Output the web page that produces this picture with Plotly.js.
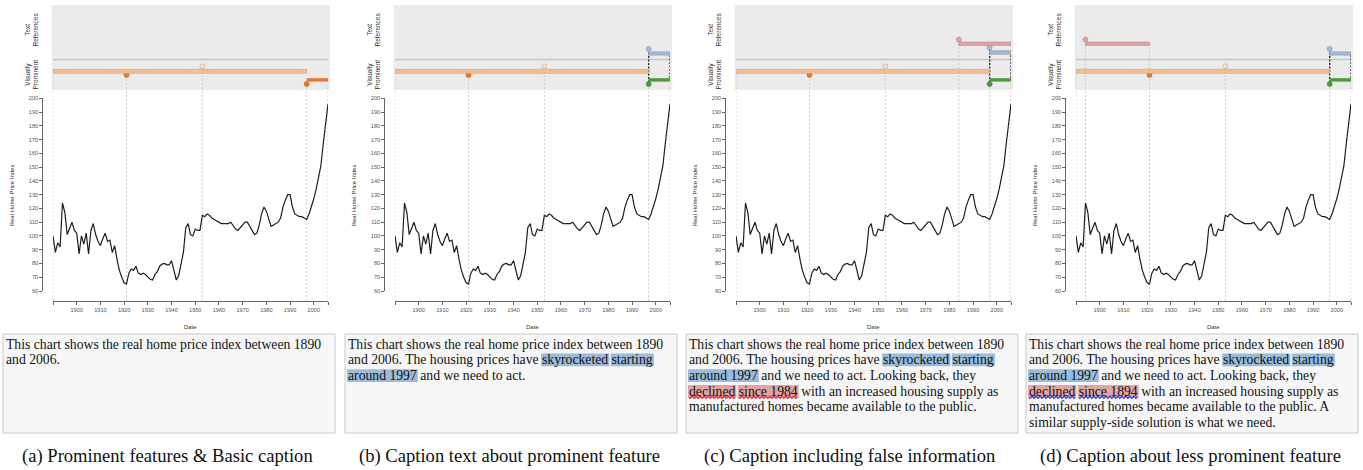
<!DOCTYPE html>
<html><head><meta charset="utf-8">
<script src="https://cdn.plot.ly/plotly-3.0.1.min.js"></script>
<style>html,body{margin:0;padding:0;background:#fff}#chart{width:1363px;height:470px}</style>
</head><body><div id="chart"></div>
<script>
// ---------------- data ----------------
const years = [1890,1891,1892,1893,1894,1895,1896,1897,1898,1899,1900,1901,1902,1903,1904,1905,1906,1907,1908,1909,1910,1911,1912,1913,1914,1915,1916,1917,1918,1919,1920,1921,1922,1923,1924,1925,1926,1927,1928,1929,1930,1931,1932,1933,1934,1935,1936,1937,1938,1939,1940,1941,1942,1943,1944,1945,1946,1947,1948,1949,1950,1951,1952,1953,1954,1955,1956,1957,1958,1959,1960,1961,1962,1963,1964,1965,1966,1967,1968,1969,1970,1971,1972,1973,1974,1975,1976,1977,1978,1979,1980,1981,1982,1983,1984,1985,1986,1987,1988,1989,1990,1991,1992,1993,1994,1995,1996,1997,1998,1999,2000,2001,2002,2003,2004,2005,2006];
const homePriceIndex = [100,88,95,92,124,117,101,106,110,104,102,87,100,94,102,87,104,109,101,96,93,98,102,96,97,88,93,83,75,70,66,65,73,76,75,78,73,72,73,72,70,68.5,68,72,74,78,79.5,80,79,79,82,75,68,71,79,88,106,109,101,100,105,104,104,115,114,116,115,113,112,111,110,109,109,109,109,110,107,105,104,106,108,110,110,107,103,101,102,108,116,121,118,112,107,108,109,110,113,121,126,130,130,121,116,115,114,114,113,112,116,121,127,134,142,151,167,183,196];
const xTickYears = [1900,1910,1920,1930,1940,1950,1960,1970,1980,1990,2000];
const yTickValues = [60,70,80,90,100,110,120,130,140,150,160,170,180,190,200];
const xRange = [1890, 2006];
const yRange = [60, 200];

// visually prominent features (years)
const trendSpan = [1890, 1997];
const minimumYear = 1921;
const shiftYear = 1953;
const riseSpan = [1997, 2006];

// text references per panel (a..d)
const riseReference = [null, [1997, 2006], [1997, 2006], [1997, 2006]];
const declineReference = [null, null, [1984, 2006], [1894, 1921]];

const panelTitles = [
  "(a) Prominent features &amp; Basic caption",
  "(b) Caption text about prominent feature",
  "(c) Caption including false information",
  "(d) Caption about less prominent feature"
];
// {bX:text}: b=blue highlight, r=red highlight; optional R/B = wavy underline colour
const captionLines = [
  ["This chart shows the real home price index between 1890",
   "and 2006."],
  ["This chart shows the real home price index between 1890",
   "and 2006. The housing prices have {b:skyrocketed} {b:starting}",
   "{b:around 1997} and we need to act."],
  ["This chart shows the real home price index between 1890",
   "and 2006. The housing prices have {b:skyrocketed} {b:starting}",
   "{b:around 1997} and we need to act. Looking back, they",
   "{rR:declined} {rR:since 1984} with an increased housing supply as",
   "manufactured homes became available to the public."],
  ["This chart shows the real home price index between 1890",
   "and 2006. The housing prices have {b:skyrocketed} {b:starting}",
   "{b:around 1997} and we need to act. Looking back, they",
   "{rB:declined} {rB:since 1894} with an increased housing supply as",
   "manufactured homes became available to the public. A",
   "similar supply-side solution is what we need."]
];

// ---------------- drawing ----------------
const W = 1363, H = 470;
const OFFS = [0, 342, 683, 1023];
const px = x => x / W;
const py = y => 1 - y / H;
const SERIF = '"Liberation Serif", "Times New Roman", serif';
const SANS = '"Liberation Sans", Arial, sans-serif';
const C = {
  gray: '#ebebeb', sep: '#c6c6c6', lightOrange: '#f6bf8d', peach: '#fbdcbd',
  darkOrange: '#e8772d', green: '#4c9a3d', blue: '#9dbcdc', pink: '#e3a1a1',
  hlBlue: '#9bbbda', hlRed: '#e3a4a4', waveR: '#e8202c', waveB: '#2038e0'
};

const canvas = document.createElement('canvas');
const ctx = canvas.getContext('2d');
function measure(s, size) { ctx.font = size + 'px "Liberation Serif"'; return ctx.measureText(s).width; }

const data = [], waveTraces = [], shapes = [], annotations = [];
const layout = {
  width: W, height: H, margin: {l: 0, r: 0, t: 0, b: 0},
  paper_bgcolor: '#ffffff', plot_bgcolor: 'rgba(0,0,0,0)', showlegend: false,
  shapes, annotations, hovermode: false,
  // full-page overlay in pixel units, used only for text decorations
  xaxis9: {domain: [0, 1], range: [0, W], anchor: 'y9', visible: false, fixedrange: true},
  yaxis9: {domain: [0, 1], range: [H, 0], anchor: 'x9', visible: false, fixedrange: true}
};

function axName(n, k) { return n === 1 ? k : k + n; }

OFFS.forEach((ox, i) => {
  const ca = 2 * i + 1, ta = 2 * i + 2;
  const cx = axName(ca, 'x'), cy = axName(ca, 'y');
  const tx = 'x' + ta, ty = 'y' + ta;
  const xdom = [px(ox + 53), px(ox + 328)];

  layout[axName(ca, 'xaxis')] = {
    domain: xdom, range: xRange, anchor: 'free', position: py(301),
    showline: true, linecolor: '#666', linewidth: 1, ticks: 'outside', ticklen: 3,
    tickcolor: '#666', tickvals: [xRange[0]].concat(xTickYears, [xRange[1]]),
    ticktext: [''].concat(xTickYears.map(String), ['']),
    tickfont: {size: 5.6, color: '#555', family: SANS}, showgrid: false, zeroline: false
  };
  layout[axName(ca, 'yaxis')] = {
    domain: [py(291), py(98.3)], range: yRange, anchor: 'free', position: px(ox + 42.3),
    showline: true, linecolor: '#666', linewidth: 1, ticks: 'outside', ticklen: 3,
    tickcolor: '#666', tickvals: yTickValues, tickfont: {size: 5.6, color: '#555', family: SANS},
    showgrid: false, zeroline: false
  };
  layout['xaxis' + ta] = {domain: xdom, range: xRange, anchor: ty, visible: false};
  layout['yaxis' + ta] = {domain: [py(90), py(5)], range: [90, 5], anchor: tx, visible: false};

  shapes.push({type: 'rect', xref: 'paper', yref: 'paper', x0: px(ox + 51.7), x1: px(ox + 330),
    y0: py(90), y1: py(5), fillcolor: C.gray, line: {width: 0}, layer: 'below'});
  shapes.push({type: 'line', xref: tx, yref: ty, x0: xRange[0], x1: xRange[1], y0: 59.5, y1: 59.5,
    line: {color: C.sep, width: 1.5}, layer: 'below'});

  const guides = [[trendSpan[0], 73], [minimumYear, 75], [shiftYear, 66], [riseSpan[0], 84], [riseSpan[1], 81]];
  if (declineReference[i]) { guides.push([declineReference[i][0], 39.5], [declineReference[i][1], 45.5]); }
  guides.forEach(([yr, top]) => {
    shapes.push({type: 'line', xref: cx, yref: 'paper', x0: yr, x1: yr, y0: py(301), y1: py(top),
      line: {color: '#cdcdcd', width: 1, dash: '2px,2px'}, layer: 'below'});
  });

  shapes.push({type: 'rect', xref: tx, yref: ty, x0: trendSpan[0], x1: trendSpan[1], y0: 69.3, y1: 73.3,
    fillcolor: C.lightOrange, line: {color: '#b3a596', width: 0.6}, layer: 'above'});
  const riseColor = riseReference[i] ? C.green : C.darkOrange;
  shapes.push({type: 'rect', xref: tx, yref: ty, x0: riseSpan[0], x1: riseSpan[1], y0: 78.2, y1: 81.6,
    fillcolor: riseColor, line: {width: 0}, layer: 'above'});

  const dotX = [minimumYear, shiftYear, riseSpan[0]];
  const dotY = [75, 66.3, 84];
  const dotC = [C.darkOrange, C.peach, riseColor];
  const dotL = ['#c0662a', '#c9ad93', riseReference[i] ? '#3c7d30' : '#c0662a'];

  if (riseReference[i]) {
    shapes.push({type: 'line', xref: tx, yref: ty, x0: riseReference[i][0], x1: riseReference[i][0], y0: 49, y1: 84,
      line: {color: '#222', width: 1.3, dash: '2px,1.5px'}, layer: 'below'});
    shapes.push({type: 'line', xref: tx, yref: ty, x0: riseReference[i][1], x1: riseReference[i][1], y0: 55, y1: 81,
      line: {color: '#222', width: 1.3, dash: '2px,1.5px'}, layer: 'below'});
    const by = i === 2 ? [50.7, 54.3, 47.7] : [51.8, 55.2, 49];
    shapes.push({type: 'rect', xref: tx, yref: ty, x0: riseReference[i][0], x1: riseReference[i][1], y0: by[0], y1: by[1],
      fillcolor: C.blue, line: {color: '#9a9a9a', width: 0.6}, layer: 'above'});
    dotX.push(riseReference[i][0]); dotY.push(by[2]); dotC.push(C.blue); dotL.push('#7f9fc0');
  }
  if (declineReference[i]) {
    shapes.push({type: 'rect', xref: tx, yref: ty, x0: declineReference[i][0], x1: declineReference[i][1], y0: 42, y1: 45.5,
      fillcolor: C.pink, line: {color: '#9a9a9a', width: 0.6}, layer: 'above'});
    dotX.push(declineReference[i][0]); dotY.push(39.5); dotC.push(C.pink); dotL.push('#c98585');
  }
  data.push({type: 'scatter', mode: 'markers', x: dotX, y: dotY, xaxis: tx, yaxis: ty, cliponaxis: false,
    marker: {size: 5, color: dotC, line: {color: dotL, width: 0.6}}, hoverinfo: 'skip'});

  data.push({type: 'scatter', mode: 'lines', x: years, y: homePriceIndex, xaxis: cx, yaxis: cy,
    line: {color: '#1e1e1e', width: 1.2}, hoverinfo: 'skip'});

  annotations.push({xref: 'paper', yref: 'paper', x: px(ox + 31.5), y: py(30), text: 'Text<br>References',
    textangle: -90, showarrow: false, xanchor: 'center', yanchor: 'middle',
    font: {size: 6.5, color: '#333', family: SANS}});
  annotations.push({xref: 'paper', yref: 'paper', x: px(ox + 31.5), y: py(75), text: 'Visually<br>Prominent',
    textangle: -90, showarrow: false, xanchor: 'center', yanchor: 'middle',
    font: {size: 6.5, color: '#333', family: SANS}});
  annotations.push({xref: 'paper', yref: 'paper', x: px(ox + 12.3), y: py(195), text: 'Real Home Price Index',
    textangle: -90, showarrow: false, xanchor: 'center', yanchor: 'middle',
    font: {size: 6, color: '#333', family: SANS}});
  annotations.push({xref: 'paper', yref: 'paper', x: px(ox + 190.5), y: py(327), text: 'Date',
    showarrow: false, xanchor: 'center', yanchor: 'middle', font: {size: 6, color: '#333', family: SANS}});

  shapes.push({type: 'rect', xref: 'paper', yref: 'paper', x0: px(ox + 3), x1: px(ox + 335), y0: py(433), y1: py(334),
    fillcolor: '#f7f7f7', line: {color: '#c8c8c8', width: 1}, layer: 'below'});
  const FS = 13.7, LH = 15.7;
  captionLines[i].forEach((line, j) => {
    const yc = 344 + j * LH;
    const re = /\{([br])([RB]?):([^}]*)\}/g;
    let plain = '', last = 0, m;
    const segs = [];
    while ((m = re.exec(line)) !== null) {
      plain += line.slice(last, m.index);
      segs.push({start: plain.length, text: m[3], hl: m[1], ul: m[2]});
      plain += m[3];
      last = re.lastIndex;
    }
    plain += line.slice(last);
    const x0 = ox + 6;
    segs.forEach(s => {
      const sx = x0 + measure(plain.slice(0, s.start), FS);
      const sw = measure(s.text, FS);
      shapes.push({type: 'rect', xref: 'paper', yref: 'paper', x0: px(sx - 1), x1: px(sx + sw + 1),
        y0: py(yc + 6.6), y1: py(yc - 6.2), fillcolor: s.hl === 'b' ? C.hlBlue : C.hlRed, line: {width: 0}, layer: 'below'});
      if (s.ul) {
        const wy = yc + 6.2;
        const wx = [], wyArr = [];
        for (let x = sx; x <= sx + sw + 0.01; x += 0.5) {
          wx.push(x);
          wyArr.push(wy + 1.2 * Math.sin((x - sx) / 4 * 2 * Math.PI));
        }
        waveTraces.push({type: 'scatter', mode: 'lines', x: wx, y: wyArr, xaxis: 'x9', yaxis: 'y9',
          cliponaxis: false, line: {color: s.ul === 'R' ? C.waveR : C.waveB, width: 1.1}, hoverinfo: 'skip'});
      }
    });
    annotations.push({xref: 'paper', yref: 'paper', x: px(x0), y: py(yc), text: plain, showarrow: false,
      xanchor: 'left', yanchor: 'middle', borderpad: 0, borderwidth: 0,
      font: {size: FS, color: '#111', family: SERIF}});
  });

  annotations.push({xref: 'paper', yref: 'paper', x: px(ox + 167.5), y: py(456), text: panelTitles[i],
    showarrow: false, xanchor: 'center', yanchor: 'middle', font: {size: 18.6, color: '#111', family: SERIF}});
});

Plotly.newPlot('chart', data.concat(waveTraces), layout, {displayModeBar: false, staticPlot: true});
</script>
</body></html>
